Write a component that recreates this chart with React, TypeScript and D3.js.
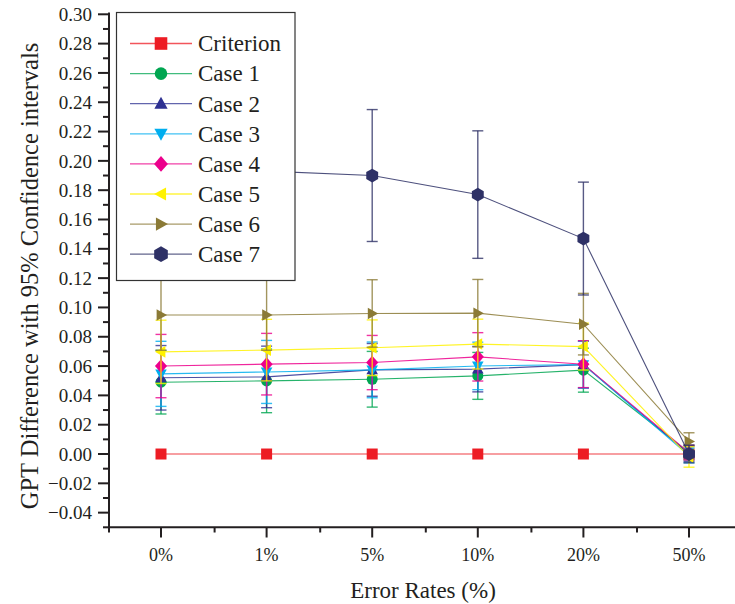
import React from "react";
import * as d3 from "d3";

const categories = ["0%", "1%", "5%", "10%", "20%", "50%"];
const seriesNames = ["Criterion", "Case 1", "Case 2", "Case 3", "Case 4", "Case 5", "Case 6", "Case 7"];
const criterion = [0, 0, 0, 0, 0, 0];
const case1 = [0.049, 0.0499, 0.051, 0.0533, 0.0572, 0.001];
const case2 = [0.052, 0.0526, 0.0574, 0.0579, 0.061, 0.0];
const case3 = [0.0547, 0.056, 0.0574, 0.0601, 0.061, -0.001];
const case4 = [0.06, 0.0613, 0.0624, 0.0663, 0.0613, 0.001];
const case5 = [0.0697, 0.0709, 0.0725, 0.075, 0.0733, -0.002];
const case6 = [0.0948, 0.0948, 0.0959, 0.0961, 0.0886, 0.0085];
const case7 = [0.195, 0.193, 0.19, 0.177, 0.147, 0.0];
const err0 = [0, 0, 0, 0, 0, 0];
const err1 = [0.0217, 0.0217, 0.019, 0.016, 0.015, 0.005];
const err2 = [0.022, 0.021, 0.018, 0.0155, 0.016, 0.005];
const err3 = [0.0222, 0.0215, 0.019, 0.0162, 0.016, 0.005];
const err4 = [0.0216, 0.021, 0.0185, 0.0165, 0.016, 0.005];
const err5 = [0.0216, 0.021, 0.019, 0.017, 0.016, 0.007];
const err6 = [0.024, 0.024, 0.023, 0.023, 0.021, 0.006];
const err7 = [0.042, 0.042, 0.045, 0.0435, 0.0385, 0.006];
const yTicks = [-0.04, -0.02, 0, 0.02, 0.04, 0.06, 0.08, 0.1, 0.12, 0.14, 0.16, 0.18, 0.2, 0.22, 0.24, 0.26, 0.28, 0.3];
const yMinorTicks = [-0.05, -0.03, -0.01, 0.01, 0.03, 0.05, 0.07, 0.09, 0.11, 0.13, 0.15, 0.17, 0.19, 0.21, 0.23, 0.25, 0.27, 0.29];

const values = [criterion, case1, case2, case3, case4, case5, case6, case7];
const errors = [err0, err1, err2, err3, err4, err5, err6, err7];
const colors = ["#ed1c24", "#00a651", "#2e3192", "#00aeef", "#ec008c", "#fff200", "#8b7a36", "#2e3166"];
const shapes = ["square", "circle", "up", "down", "diamond", "left", "right", "hexagon"];

const FONT = "Liberation Serif, Times New Roman, DejaVu Serif, serif";

function markerPath(shape: string, r: number): string {
  const p = (pts: number[][]) => "M" + pts.map((q) => q[0].toFixed(2) + "," + q[1].toFixed(2)).join("L") + "Z";
  switch (shape) {
    case "square":
      return p([[-r, -r], [r, -r], [r, r], [-r, r]]);
    case "circle":
      return `M${-r},0A${r},${r} 0 1,0 ${r},0A${r},${r} 0 1,0 ${-r},0Z`;
    case "up":
      return p([[0, -r * 1.1], [r * 1.05, r * 0.8], [-r * 1.05, r * 0.8]]);
    case "down":
      return p([[0, r * 1.1], [r * 1.05, -r * 0.8], [-r * 1.05, -r * 0.8]]);
    case "diamond":
      return p([[0, -r * 1.25], [r * 1.1, 0], [0, r * 1.25], [-r * 1.1, 0]]);
    case "left":
      return p([[-r * 1.1, 0], [r * 0.8, -r * 1.05], [r * 0.8, r * 1.05]]);
    case "right":
      return p([[r * 1.1, 0], [-r * 0.8, -r * 1.05], [-r * 0.8, r * 1.05]]);
    case "hexagon": {
      const pts: number[][] = [];
      for (let i = 0; i < 6; i++) {
        const a = -Math.PI / 2 + (i * Math.PI) / 3;
        pts.push([Math.cos(a) * r * 1.25, Math.sin(a) * r * 1.25]);
      }
      return p(pts);
    }
  }
  return "";
}

export default function App() {
  const W = 735;
  const H = 604;
  const x = d3.scaleBand<string>().domain(categories).range([108.2, 741.8]).padding(0);
  const cx = (c: string) => (x(c) as number) + x.bandwidth() / 2;
  const y = d3.scaleLinear().domain([-0.05, 0.3]).range([527.3, 14.3]);
  const axisColor = "#231f20";
  const line = d3
    .line<number>()
    .x((_, i) => cx(categories[i]))
    .y((v) => y(v));

  const boundaries = categories.map((c) => x(c) as number);
  const txt = { fontFamily: FONT } as React.CSSProperties;

  return (
    <svg width={W} height={H} style={{ display: "block", position: "absolute", left: 0, top: 0, fontFamily: FONT }}>
      <rect x={0} y={0} width={W} height={H} fill="#fff" />
      {values.map((vals, si) => (
        <g key={si}>
          <path d={line(vals) || ""} fill="none" stroke={colors[si]} strokeWidth={1.1} strokeOpacity={0.85} />
          {si > 0 &&
            vals.map((v, i) => {
              const e = errors[si][i];
              const X = cx(categories[i]);
              return (
                <g key={i} stroke={colors[si]} strokeWidth={1.4} strokeOpacity={0.8}>
                  <line x1={X} x2={X} y1={y(v + e)} y2={y(v - e)} />
                  <line x1={X - 5.5} x2={X + 5.5} y1={y(v + e)} y2={y(v + e)} />
                  <line x1={X - 5.5} x2={X + 5.5} y1={y(v - e)} y2={y(v - e)} />
                </g>
              );
            })}
          {vals.map((v, i) => (
            <path
              key={"m" + i}
              d={markerPath(shapes[si], 5.5)}
              transform={`translate(${cx(categories[i])},${y(v)})`}
              fill={colors[si]}
            />
          ))}
        </g>
      ))}

      <line x1={109} x2={109} y1={12.5} y2={528.3} stroke={axisColor} strokeWidth={2} />
      {yTicks.map((t) => (
        <g key={"yt" + t}>
          <line x1={98} x2={109} y1={y(t)} y2={y(t)} stroke={axisColor} strokeWidth={2} />
          <text x={92} y={y(t)} dy="0.35em" textAnchor="end" style={txt} fontSize={19} fill={axisColor}>
            {d3.format(".2f")(t)}
          </text>
        </g>
      ))}
      {yMinorTicks.map((t) => (
        <line key={"ym" + t} x1={103} x2={109} y1={y(t)} y2={y(t)} stroke={axisColor} strokeWidth={2} />
      ))}
      <line x1={108} x2={742} y1={527.3} y2={527.3} stroke={axisColor} strokeWidth={2} />
      {categories.map((c) => (
        <g key={"xt" + c}>
          <line x1={cx(c)} x2={cx(c)} y1={527.3} y2={537.5} stroke={axisColor} strokeWidth={2} />
          <text x={cx(c)} y={561} textAnchor="middle" style={txt} fontSize={18} fill={axisColor}>
            {c}
          </text>
        </g>
      ))}
      {boundaries.map((b, i) => (
        <line key={"xm" + i} x1={b + 0.8} x2={b + 0.8} y1={527.3} y2={532.5} stroke={axisColor} strokeWidth={2} />
      ))}
      <text x={423} y={598} textAnchor="middle" style={txt} fontSize={23} fill={axisColor}>
        Error Rates (%)
      </text>
      <text
        transform={`translate(38,276) rotate(-90)`}
        textAnchor="middle"
        style={txt}
        fontSize={24.5}
        fill={axisColor}
      >
        GPT Difference with 95% Confidence intervals
      </text>

      <rect x={116.5} y={12.5} width={178.5} height={268} fill="#fff" stroke="#333" strokeWidth={1.2} />
      {seriesNames.map((n, i) => {
        const ly = 43.5 + i * 30.1;
        return (
          <g key={"lg" + i}>
            <line x1={130} x2={192} y1={ly} y2={ly} stroke={colors[i]} strokeWidth={1.3} strokeOpacity={0.75} />
            <path d={markerPath(shapes[i], 6.3)} transform={`translate(161,${ly})`} fill={colors[i]} />
            <text x={198} y={ly} dy="0.34em" style={txt} fontSize={23} fill={axisColor}>
              {n}
            </text>
          </g>
        );
      })}
    </svg>
  );
}
